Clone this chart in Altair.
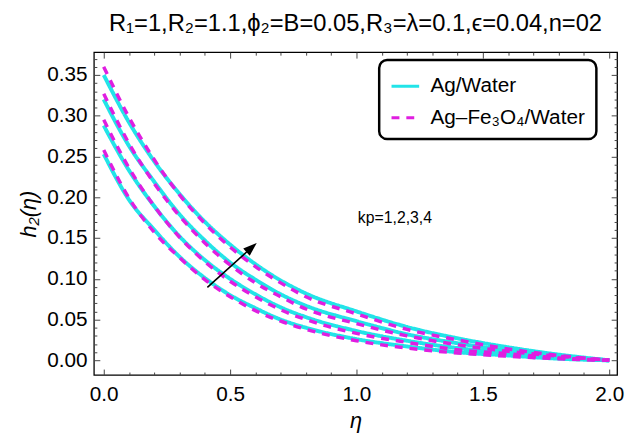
import altair as alt
import pandas as pd

# ---------------- data ----------------
eta = [0.0, 0.1, 0.2, 0.3, 0.4, 0.5, 0.6, 0.7, 0.8, 1.0, 1.2, 1.4, 1.6, 1.8, 2.0]
kp_values = [1, 2, 3, 4]

# Ag/Water (solid cyan), kp = 1..4
ag_kp1 = [0.253, 0.197, 0.160, 0.127, 0.101, 0.080, 0.064, 0.050, 0.040, 0.026, 0.017, 0.010, 0.006, 0.002, 0.0]
ag_kp2 = [0.288, 0.233, 0.189, 0.152, 0.123, 0.100, 0.081, 0.065, 0.053, 0.036, 0.024, 0.015, 0.009, 0.004, 0.0]
ag_kp3 = [0.320, 0.263, 0.219, 0.179, 0.147, 0.120, 0.099, 0.081, 0.067, 0.048, 0.032, 0.021, 0.012, 0.005, 0.0]
ag_kp4 = [0.350, 0.292, 0.244, 0.204, 0.170, 0.142, 0.118, 0.098, 0.082, 0.060, 0.041, 0.027, 0.016, 0.007, 0.0]

# Ag-Fe3O4/Water (dashed magenta), kp = 1..4
hy_kp1 = [0.258, 0.199, 0.157, 0.126, 0.099, 0.078, 0.061, 0.048, 0.038, 0.024, 0.015, 0.009, 0.005, 0.002, 0.0]
hy_kp2 = [0.295, 0.236, 0.189, 0.151, 0.121, 0.097, 0.078, 0.062, 0.050, 0.033, 0.022, 0.013, 0.008, 0.003, 0.0]
hy_kp3 = [0.327, 0.266, 0.217, 0.177, 0.144, 0.117, 0.095, 0.078, 0.063, 0.045, 0.030, 0.019, 0.011, 0.005, 0.0]
hy_kp4 = [0.360, 0.298, 0.246, 0.203, 0.168, 0.139, 0.115, 0.095, 0.078, 0.057, 0.038, 0.025, 0.014, 0.006, 0.0]

fluids = ["Ag/Water", "Ag\u2013Fe\u2083O\u2084/Water"]
colors = ["#22E4E8", "#E01EE0"]

x_major = [0.0, 0.5, 1.0, 1.5, 2.0]
x_minor = [0.1, 0.2, 0.3, 0.4, 0.6, 0.7, 0.8, 0.9, 1.1, 1.2, 1.3, 1.4, 1.6, 1.7, 1.8, 1.9]
y_major = [0.0, 0.05, 0.10, 0.15, 0.20, 0.25, 0.30, 0.35]
y_minor = [0.01, 0.02, 0.03, 0.04, 0.06, 0.07, 0.08, 0.09, 0.11, 0.12, 0.13, 0.14,
           0.16, 0.17, 0.18, 0.19, 0.21, 0.22, 0.23, 0.24, 0.26, 0.27, 0.28, 0.29,
           0.31, 0.32, 0.33, 0.34, 0.36, 0.37]

annot_text = ["kp=1,2,3,4"]
annot_x = [1.152]
annot_y = [0.168]

arrow_tail = [0.41, 0.0896]
arrow_head = [0.585, 0.1384]

title_text = "R\u2081=1,R\u2082=1.1,\u03d5\u2082=B=0.05,R\u2083=\u03bb=0.1,\u03f5=0.04,n=02"

# ---------------- build table ----------------
rows = []
for fluid, series in [(fluids[0], [ag_kp1, ag_kp2, ag_kp3, ag_kp4]),
                      (fluids[1], [hy_kp1, hy_kp2, hy_kp3, hy_kp4])]:
    for kp, vals in zip(kp_values, series):
        for e, v in zip(eta, vals):
            rows.append({"fluid": fluid, "kp": kp, "eta": e, "h2": v})
df = pd.DataFrame(rows)

FONT = "Liberation Sans"
xscale = alt.Scale(domain=[-0.039, 2.031], nice=False, zero=False)
yscale = alt.Scale(domain=[-0.018, 0.378], nice=False, zero=False)

legend = alt.Legend(
    orient="none", legendX=289, legendY=8, title=None,
    symbolType="stroke", symbolSize=784, symbolStrokeWidth=3,
    labelFont=FONT, labelFontSize=21, labelColor="black", labelOffset=10,
    strokeColor="black", cornerRadius=8, padding=11, rowPadding=6,
    fillColor="white",
)
color_enc = alt.Color("fluid:N", scale=alt.Scale(domain=fluids, range=colors), legend=legend)
dash_enc = alt.StrokeDash("fluid:N", scale=alt.Scale(domain=fluids, range=[[1, 0], [8, 7]]), legend=legend)


def ax(orient, values, size, labels=False, **kw):
    # inward frame ticks: axis shifted inside the plot by its tick length
    return alt.Axis(orient=orient, values=values, tickSize=size, offset=-size,
                    labels=labels, domain=False, grid=False, ticks=True,
                    tickColor="#444444", tickWidth=1, **kw)


# cyan solid lines: bottom + left major axes with labels
cyan = alt.Chart(df).transform_filter(alt.datum.fluid == fluids[0]).mark_line(
    strokeWidth=4, interpolate="monotone"
).encode(
    x=alt.X("eta:Q", scale=xscale,
            axis=ax("bottom", x_major, 6, labels=True, format=".1f",
                    labelFont=FONT, labelFontSize=21, labelColor="black", labelPadding=9,
                    title="\u03b7", titleFont=FONT, titleFontSize=22, titleFontStyle="italic",
                    titleFontWeight="normal", titleColor="black", titlePadding=6)),
    y=alt.Y("h2:Q", scale=yscale,
            axis=ax("left", y_major, 6, labels=True, format=".2f",
                    labelFont=FONT, labelFontSize=21, labelColor="black", labelPadding=7,
                    title="h\u2082(\u03b7)", titleFont=FONT, titleFontSize=22, titleFontStyle="italic",
                    titleFontWeight="normal", titleColor="black", titlePadding=6)),
    color=color_enc, strokeDash=dash_enc, detail="kp:N",
)

# magenta dashed lines: bottom + left minor ticks
magenta = alt.Chart(df).transform_filter(alt.datum.fluid == fluids[1]).mark_line(
    strokeWidth=3.5, interpolate="monotone"
).encode(
    x=alt.X("eta:Q", scale=xscale, axis=ax("bottom", x_minor, 3, title=None)),
    y=alt.Y("h2:Q", scale=yscale, axis=ax("left", y_minor, 3, title=None)),
    color=color_enc, strokeDash=dash_enc, detail="kp:N",
)

# invisible layers carrying top / right frame ticks
top_major = alt.Chart(df).mark_point(opacity=0).encode(
    x=alt.X("eta:Q", scale=xscale, axis=ax("top", x_major, 6, title=None)),
    y=alt.Y("h2:Q", scale=yscale, axis=ax("right", y_major, 6, title=None)),
)
top_minor = alt.Chart(df).mark_point(opacity=0).encode(
    x=alt.X("eta:Q", scale=xscale, axis=ax("top", x_minor, 3, title=None)),
    y=alt.Y("h2:Q", scale=yscale, axis=ax("right", y_minor, 3, title=None)),
)

annot_df = pd.DataFrame({"text": annot_text, "x": annot_x, "y": annot_y})
label = alt.Chart(annot_df).mark_text(
    font=FONT, fontSize=16, color="black", align="center", baseline="alphabetic"
).encode(
    x=alt.X("x:Q", scale=xscale, axis=None),
    y=alt.Y("y:Q", scale=yscale, axis=None),
    text="text:N",
)

arrow_df = pd.DataFrame({"x": [arrow_tail[0]], "y": [arrow_tail[1]],
                         "x2": [arrow_head[0]], "y2": [arrow_head[1]]})
shaft = alt.Chart(arrow_df).mark_rule(color="black", strokeWidth=1.6).encode(
    x=alt.X("x:Q", scale=xscale, axis=None),
    y=alt.Y("y:Q", scale=yscale, axis=None),
    x2="x2:Q", y2="y2:Q",
)
head = alt.Chart(arrow_df).mark_point(
    shape="M0,-1L0.7,1L-0.7,1Z", filled=True, color="black", opacity=1, size=196, angle=48
).encode(
    x=alt.X("x2:Q", scale=xscale, axis=None),
    y=alt.Y("y2:Q", scale=yscale, axis=None),
)

chart = alt.layer(cyan, magenta, top_major, top_minor, label, shaft, head).resolve_axis(
    x="independent", y="independent"
).properties(
    width=530, height=327,
    title=alt.TitleParams(text=title_text, font=FONT, fontSize=24, fontWeight="normal",
                          color="black", anchor="middle", frame="group", offset=16),
    autosize=alt.AutoSizeParams(type="none"),
    padding={"left": 87, "top": 42, "right": 8, "bottom": 57},
    background="white",
).configure_view(stroke="black", strokeWidth=1.3).configure_legend(strokeWidth=2.5)

chart.save("out.html", embed_options={"renderer": "svg", "actions": False})
